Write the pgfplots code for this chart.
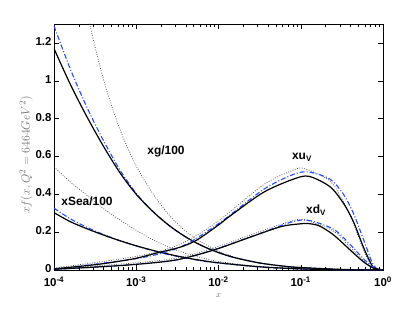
\documentclass[border=0pt]{standalone}
\usepackage{fontspec}
\setmainfont{Liberation Sans}
\usepackage{pgfplots}
\pgfplotsset{compat=1.18}

\definecolor{pdfBlue}{rgb}{0.15,0.3,0.95}
\definecolor{labGrey}{gray}{0.45}
\pgfplotsset{
    central/.style={black, line width=1.2bp, smooth},
    fitB/.style={pdfBlue, line width=1.1bp, smooth, dash pattern=on 5bp off 2bp on 1bp off 2bp},
    band/.style={black!75, line width=0.7bp, smooth, dash pattern=on 0.8bp off 1.6bp},
}

\begin{document}
\begin{tikzpicture}
\begin{axis}[
    scale only axis,
    width=329bp, height=246bp,
    xmode=log,
    xmin=1e-4, xmax=1,
    ymin=0, ymax=1.3,
    axis line style={line width=0.6bp},
    tick align=inside,
    major tick length=5bp,
    minor tick length=3bp,
    every tick/.style={black, line width=0.5bp},
    xtick={1e-4,1e-3,1e-2,1e-1,1},
    xticklabels={10\textsuperscript{-4},10\textsuperscript{-3},10\textsuperscript{-2},10\textsuperscript{-1},10\textsuperscript{0}},
    ytick={0,0.2,0.4,0.6,0.8,1,1.2},
    yticklabels={0,0.2,0.4,0.6,0.8,1,1.2},
    tick label style={font=\fontsize{11.5}{13}\selectfont\bfseries},
    yticklabel style={xshift=1bp, yshift=1.5bp},
    xticklabel style={yshift=-3bp},
    xlabel={$x$},
    xlabel style={font=\small, text=labGrey, yshift=0bp},
    ylabel={$xf(x,Q^2=6464GeV^2)$},
    ylabel style={font=\fontsize{13}{15}\selectfont, text=labGrey, yshift=-4bp, xshift=-8bp},
]
% xg/100
\addplot[band] coordinates {(1.585e-4,1.85) (2.512e-4,1.37) (3.981e-4,1.01) (6.310e-4,0.745) (1e-3,0.55) (1.585e-3,0.405) (2.512e-3,0.29) (3.981e-3,0.205) (6.310e-3,0.145) (0.01,0.1) (1.585e-2,0.068) (3.162e-2,0.037) (6.310e-2,0.02) (0.1,0.013) (0.3162,0.003) (1,0)};
\addplot[fitB] coordinates {(1e-4,1.29) (1.585e-4,1.06) (2.512e-4,0.86) (3.981e-4,0.685) (6.310e-4,0.53) (1e-3,0.405) (1.585e-3,0.31) (2.512e-3,0.235) (3.981e-3,0.175) (6.310e-3,0.128) (0.01,0.092) (1.585e-2,0.065) (3.162e-2,0.037) (6.310e-2,0.02) (0.1,0.013) (0.3162,0.003) (1,0)};
\addplot[central] coordinates {(1e-4,1.17) (1.585e-4,0.98) (2.512e-4,0.81) (3.981e-4,0.655) (6.310e-4,0.515) (1e-3,0.40) (1.585e-3,0.31) (2.512e-3,0.235) (3.981e-3,0.175) (6.310e-3,0.128) (0.01,0.092) (1.585e-2,0.065) (3.162e-2,0.037) (6.310e-2,0.02) (0.1,0.013) (0.3162,0.003) (1,0)};
% xSea/100
\addplot[band] coordinates {(1e-4,0.545) (1.585e-4,0.465) (2.512e-4,0.395) (3.981e-4,0.325) (6.310e-4,0.265) (1e-3,0.21) (1.585e-3,0.16) (2.512e-3,0.12) (3.981e-3,0.088) (6.310e-3,0.064) (0.01,0.045) (3.162e-2,0.018) (0.1,0.006) (0.3162,0.001) (1,0)};
\addplot[fitB] coordinates {(1e-4,0.327) (1.585e-4,0.27) (2.512e-4,0.226) (3.981e-4,0.188) (6.310e-4,0.155) (1e-3,0.127) (1.585e-3,0.102) (2.512e-3,0.081) (3.981e-3,0.063) (6.310e-3,0.048) (0.01,0.037) (3.162e-2,0.016) (0.1,0.005) (0.3162,0.001) (1,0)};
\addplot[central] coordinates {(1e-4,0.303) (1.585e-4,0.255) (2.512e-4,0.218) (3.981e-4,0.185) (6.310e-4,0.155) (1e-3,0.128) (1.585e-3,0.104) (2.512e-3,0.083) (3.981e-3,0.065) (6.310e-3,0.05) (0.01,0.038) (3.162e-2,0.017) (0.1,0.006) (0.3162,0.001) (1,0)};
% xu_V
\addplot[band] coordinates {(1e-4,0.01) (1e-3,0.072) (3.388e-3,0.135) (0.01,0.26) (3.508e-2,0.45) (8.128e-2,0.528) (0.1122,0.535) (0.227,0.47) (0.3311,0.36) (0.4365,0.245) (0.5754,0.11) (0.7295,0.02) (0.8318,0.003) (1,0)};
\addplot[fitB] coordinates {(1e-4,0.005) (1e-3,0.06) (3.388e-3,0.12) (0.01,0.245) (3.508e-2,0.425) (8.128e-2,0.505) (0.1259,0.518) (0.227,0.48) (0.3311,0.40) (0.4365,0.30) (0.5754,0.165) (0.7295,0.045) (0.8318,0.008) (1,0)};
\addplot[central] coordinates {(1e-4,0.006) (3.162e-4,0.028) (5.754e-4,0.044) (1e-3,0.062) (1.778e-3,0.09) (3.388e-3,0.12) (5.433e-3,0.158) (0.01,0.238) (1.38e-2,0.285) (3.508e-2,0.41) (8.128e-2,0.48) (0.1259,0.495) (0.227,0.44) (0.3311,0.352) (0.4365,0.256) (0.5754,0.123) (0.7295,0.026) (0.7943,0.01) (1,0)};
% xd_V
\addplot[band] coordinates {(1e-4,0.006) (1e-3,0.038) (3.388e-3,0.066) (0.01,0.125) (3.508e-2,0.21) (7.943e-2,0.26) (0.1122,0.265) (0.2512,0.205) (0.3981,0.12) (0.5754,0.05) (0.7586,0.01) (0.85,0) (1,0)};
\addplot[fitB] coordinates {(1e-4,0.003) (1e-3,0.03) (3.388e-3,0.057) (0.01,0.115) (3.508e-2,0.2) (7.943e-2,0.255) (0.1259,0.262) (0.2512,0.215) (0.3981,0.135) (0.5754,0.06) (0.7586,0.015) (0.85,0.002) (1,0)};
\addplot[central] coordinates {(1e-4,0.004) (5.754e-4,0.022) (1.778e-3,0.04) (3.388e-3,0.057) (8.71e-3,0.105) (2.203e-2,0.167) (5.623e-2,0.228) (9.333e-2,0.243) (0.1259,0.245) (0.1698,0.232) (0.2512,0.185) (0.3981,0.106) (0.5754,0.044) (0.7586,0.01) (0.85,0) (1,0)};

\node[font=\fontsize{12}{14}\selectfont\bfseries] at (axis cs:2.30e-3,0.624) {xg/100};
\node[font=\fontsize{12}{14}\selectfont\bfseries] at (axis cs:2.52e-4,0.365) {xSea/100};
\node[font=\fontsize{12}{14}\selectfont\bfseries] at (axis cs:0.1035,0.597) {xu\textsubscript{V}};
\node[font=\fontsize{12}{14}\selectfont\bfseries] at (axis cs:0.1532,0.317) {xd\textsubscript{V}};
\end{axis}
\path[use as bounding box] ([shift={(-54bp,-52bp)}]current axis.south west) rectangle ([shift={(32bp,24bp)}]current axis.north east);
\end{tikzpicture}
\end{document}
